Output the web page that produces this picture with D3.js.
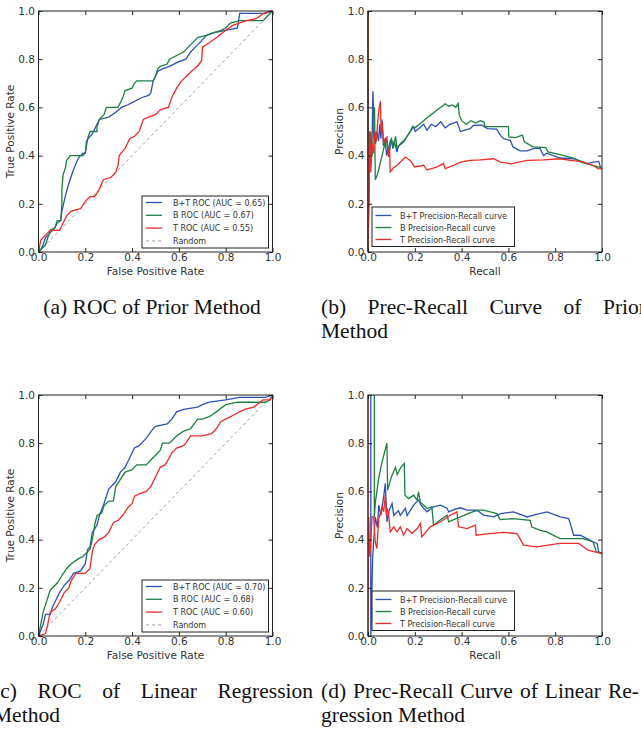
<!DOCTYPE html>
<html>
<head>
<meta charset="utf-8">
<script src="https://cdn.jsdelivr.net/npm/d3@7"></script>
<style>
  body { margin: 0; background: #fff; }
  svg { display: block; }
</style>
</head>
<body>
<div id="fig"></div>
<script>
// tick values shared by every panel
const ticks = [0.0, 0.2, 0.4, 0.6, 0.8, 1.0];
const randomLine = [[0, 0], [1, 1]];

// (a) ROC of prior method
const rocPriorBT = [[0,0],[0.01,0.01],[0.02,0.03],[0.03,0.06],[0.05,0.08],[0.07,0.1],[0.08,0.12],[0.095,0.13],[0.1,0.17],[0.105,0.19],[0.114,0.23],[0.128,0.28],[0.149,0.34],[0.17,0.39],[0.19,0.41],[0.2,0.41],[0.205,0.46],[0.22,0.48],[0.23,0.49],[0.25,0.53],[0.26,0.55],[0.3,0.56],[0.33,0.58],[0.355,0.6],[0.38,0.61],[0.4,0.62],[0.44,0.64],[0.47,0.65],[0.48,0.66],[0.49,0.71],[0.51,0.75],[0.53,0.76],[0.56,0.77],[0.6,0.79],[0.63,0.8],[0.65,0.83],[0.67,0.85],[0.69,0.87],[0.7,0.88],[0.72,0.9],[0.75,0.91],[0.8,0.92],[0.85,0.93],[0.855,0.96],[0.86,0.99],[0.97,0.99],[1,1]];
const rocPriorB = [[0,0],[0.02,0.02],[0.03,0.03],[0.04,0.06],[0.05,0.09],[0.07,0.1],[0.08,0.13],[0.095,0.13],[0.1,0.2],[0.1,0.26],[0.105,0.32],[0.115,0.35],[0.12,0.38],[0.128,0.39],[0.135,0.4],[0.19,0.4],[0.2,0.41],[0.21,0.47],[0.22,0.5],[0.25,0.5],[0.25,0.52],[0.26,0.55],[0.28,0.57],[0.29,0.6],[0.34,0.6],[0.35,0.62],[0.36,0.64],[0.37,0.67],[0.4,0.68],[0.41,0.7],[0.42,0.71],[0.49,0.71],[0.5,0.73],[0.51,0.76],[0.52,0.77],[0.55,0.78],[0.56,0.8],[0.58,0.81],[0.62,0.83],[0.64,0.85],[0.66,0.87],[0.68,0.89],[0.72,0.9],[0.75,0.91],[0.78,0.92],[0.8,0.93],[0.82,0.95],[0.86,0.96],[0.96,0.96],[0.97,0.97],[1,1]];
const rocPriorT = [[0,0],[0.01,0.05],[0.03,0.07],[0.05,0.09],[0.09,0.09],[0.1,0.11],[0.12,0.15],[0.14,0.17],[0.18,0.18],[0.2,0.21],[0.22,0.23],[0.24,0.23],[0.26,0.26],[0.277,0.3],[0.31,0.31],[0.33,0.33],[0.34,0.36],[0.345,0.4],[0.37,0.43],[0.39,0.47],[0.41,0.48],[0.43,0.5],[0.448,0.55],[0.47,0.56],[0.5,0.57],[0.52,0.59],[0.555,0.6],[0.569,0.64],[0.59,0.68],[0.612,0.71],[0.654,0.75],[0.683,0.775],[0.697,0.795],[0.701,0.85],[0.733,0.87],[0.761,0.89],[0.8,0.92],[0.83,0.94],[0.889,0.96],[0.93,0.968],[0.96,0.989],[0.98,0.996],[1,1]];

// (b) precision-recall of prior method
const prPriorBT = [[0,1],[0,0],[0.006,0.5],[0.012,0.4],[0.018,0.5],[0.021,0.667],[0.027,0.5],[0.033,0.45],[0.038,0.5],[0.045,0.46],[0.05,0.53],[0.055,0.47],[0.06,0.55],[0.066,0.44],[0.072,0.47],[0.08,0.4],[0.086,0.44],[0.092,0.42],[0.1,0.47],[0.106,0.43],[0.112,0.46],[0.124,0.415],[0.13,0.44],[0.152,0.456],[0.18,0.5],[0.195,0.52],[0.202,0.5],[0.22,0.515],[0.238,0.53],[0.252,0.505],[0.27,0.53],[0.29,0.52],[0.31,0.54],[0.33,0.515],[0.35,0.53],[0.38,0.54],[0.395,0.5],[0.41,0.505],[0.437,0.512],[0.45,0.525],[0.487,0.526],[0.51,0.512],[0.55,0.51],[0.566,0.484],[0.58,0.47],[0.608,0.463],[0.62,0.436],[0.65,0.42],[0.68,0.42],[0.71,0.43],[0.735,0.43],[0.75,0.4],[0.765,0.41],[0.82,0.39],[0.88,0.387],[0.907,0.378],[0.936,0.367],[0.965,0.373],[0.986,0.376],[0.993,0.353],[1,0.346]];
const prPriorB = [[0,1],[0,0],[0.006,0.33],[0.012,0.5],[0.018,0.4],[0.024,0.5],[0.028,0.6],[0.031,0.3],[0.04,0.32],[0.05,0.36],[0.06,0.4],[0.07,0.44],[0.078,0.47],[0.085,0.42],[0.095,0.46],[0.1,0.47],[0.108,0.43],[0.118,0.48],[0.124,0.43],[0.14,0.45],[0.16,0.47],[0.18,0.5],[0.19,0.52],[0.2,0.515],[0.22,0.53],[0.25,0.555],[0.27,0.57],[0.29,0.585],[0.31,0.6],[0.33,0.615],[0.345,0.605],[0.36,0.61],[0.375,0.6],[0.385,0.617],[0.39,0.57],[0.4,0.545],[0.42,0.53],[0.44,0.545],[0.46,0.535],[0.48,0.545],[0.495,0.54],[0.5,0.52],[0.55,0.52],[0.6,0.52],[0.602,0.478],[0.63,0.475],[0.66,0.485],[0.668,0.457],[0.705,0.436],[0.76,0.433],[0.77,0.415],[0.84,0.4],[0.876,0.39],[0.9,0.378],[0.92,0.37],[0.97,0.357],[1,0.348]];
const prPriorT = [[0,1],[0,0],[0.004,0.25],[0.008,0.5],[0.012,0.33],[0.018,0.45],[0.024,0.41],[0.03,0.5],[0.036,0.46],[0.042,0.55],[0.048,0.6],[0.053,0.625],[0.056,0.5],[0.06,0.54],[0.067,0.45],[0.074,0.47],[0.081,0.477],[0.085,0.42],[0.088,0.394],[0.092,0.43],[0.095,0.332],[0.11,0.35],[0.124,0.36],[0.145,0.38],[0.16,0.394],[0.18,0.38],[0.2,0.353],[0.238,0.36],[0.252,0.34],[0.295,0.353],[0.323,0.367],[0.33,0.346],[0.366,0.36],[0.395,0.373],[0.437,0.38],[0.48,0.382],[0.537,0.387],[0.566,0.373],[0.61,0.366],[0.68,0.38],[0.75,0.382],[0.82,0.387],[0.866,0.38],[0.92,0.374],[0.96,0.36],[0.985,0.345],[1,0.345]];

// (c) ROC of linear regression method
const rocLinBT = [[0,0],[0.02,0.05],[0.03,0.09],[0.05,0.09],[0.06,0.12],[0.07,0.14],[0.09,0.18],[0.11,0.21],[0.13,0.23],[0.15,0.26],[0.18,0.27],[0.2,0.3],[0.21,0.36],[0.22,0.37],[0.23,0.43],[0.25,0.46],[0.26,0.5],[0.28,0.55],[0.3,0.61],[0.33,0.64],[0.35,0.68],[0.37,0.7],[0.39,0.74],[0.41,0.78],[0.43,0.79],[0.46,0.82],[0.49,0.86],[0.5,0.87],[0.55,0.88],[0.57,0.9],[0.59,0.93],[0.62,0.94],[0.68,0.95],[0.7,0.96],[0.73,0.97],[0.8,0.98],[0.86,0.99],[0.97,0.99],[1,1]];
const rocLinB = [[0,0],[0.01,0.05],[0.02,0.1],[0.03,0.13],[0.04,0.16],[0.05,0.19],[0.08,0.22],[0.1,0.25],[0.12,0.28],[0.14,0.3],[0.17,0.32],[0.19,0.33],[0.22,0.36],[0.23,0.4],[0.24,0.46],[0.25,0.5],[0.27,0.51],[0.28,0.54],[0.3,0.56],[0.32,0.56],[0.33,0.62],[0.35,0.65],[0.37,0.68],[0.4,0.69],[0.42,0.71],[0.46,0.71],[0.48,0.73],[0.5,0.75],[0.52,0.77],[0.53,0.8],[0.56,0.8],[0.59,0.83],[0.62,0.85],[0.65,0.86],[0.68,0.9],[0.7,0.9],[0.73,0.91],[0.76,0.93],[0.8,0.96],[0.85,0.97],[0.97,0.97],[0.99,0.98],[1,1]];
const rocLinT = [[0,0],[0.03,0.01],[0.04,0.05],[0.05,0.1],[0.07,0.11],[0.09,0.14],[0.11,0.18],[0.13,0.2],[0.14,0.23],[0.16,0.26],[0.2,0.26],[0.22,0.28],[0.23,0.35],[0.24,0.38],[0.26,0.4],[0.28,0.41],[0.3,0.43],[0.32,0.47],[0.34,0.48],[0.36,0.5],[0.38,0.53],[0.4,0.55],[0.41,0.58],[0.43,0.59],[0.46,0.6],[0.48,0.62],[0.5,0.66],[0.52,0.7],[0.54,0.71],[0.56,0.74],[0.57,0.76],[0.59,0.78],[0.62,0.79],[0.63,0.8],[0.65,0.83],[0.7,0.83],[0.74,0.84],[0.76,0.86],[0.78,0.89],[0.8,0.9],[0.84,0.92],[0.88,0.94],[0.92,0.95],[0.96,0.98],[0.99,0.98],[1,1]];

// (d) precision-recall of linear regression method
const prLinBT = [[0.012,1],[0.012,0],[0.02,0.33],[0.031,0.494],[0.04,0.45],[0.046,0.543],[0.055,0.5],[0.067,0.578],[0.074,0.633],[0.081,0.474],[0.09,0.52],[0.103,0.55],[0.11,0.5],[0.13,0.52],[0.138,0.5],[0.16,0.53],[0.167,0.5],[0.195,0.543],[0.216,0.564],[0.225,0.545],[0.238,0.53],[0.252,0.515],[0.28,0.536],[0.31,0.543],[0.338,0.53],[0.345,0.515],[0.37,0.525],[0.395,0.532],[0.423,0.522],[0.466,0.522],[0.494,0.501],[0.537,0.494],[0.566,0.508],[0.622,0.515],[0.68,0.494],[0.72,0.505],[0.765,0.515],[0.822,0.494],[0.857,0.487],[0.865,0.466],[0.879,0.418],[0.907,0.418],[0.936,0.404],[0.964,0.39],[0.979,0.384],[0.986,0.349],[1,0.342]];
const prLinB = [[0.027,1],[0.027,0.494],[0.032,0.56],[0.038,0.6],[0.045,0.65],[0.053,0.69],[0.06,0.72],[0.07,0.76],[0.081,0.8],[0.084,0.605],[0.1,0.66],[0.117,0.7],[0.125,0.67],[0.14,0.7],[0.155,0.716],[0.158,0.584],[0.174,0.57],[0.195,0.584],[0.21,0.564],[0.216,0.598],[0.224,0.555],[0.252,0.53],[0.273,0.536],[0.28,0.46],[0.316,0.487],[0.338,0.501],[0.345,0.474],[0.359,0.48],[0.395,0.494],[0.437,0.512],[0.473,0.522],[0.494,0.522],[0.551,0.508],[0.565,0.483],[0.62,0.487],[0.693,0.48],[0.7,0.452],[0.736,0.438],[0.764,0.432],[0.82,0.404],[0.92,0.404],[0.962,0.39],[0.976,0.349],[1,0.345]];
const prLinT = [[0,1],[0,0],[0.003,0.494],[0.007,0.33],[0.01,0.363],[0.017,0.494],[0.024,0.494],[0.031,0.39],[0.038,0.363],[0.046,0.487],[0.053,0.508],[0.06,0.536],[0.067,0.515],[0.074,0.585],[0.078,0.5],[0.081,0.53],[0.088,0.508],[0.095,0.432],[0.11,0.453],[0.124,0.432],[0.138,0.453],[0.152,0.418],[0.167,0.446],[0.188,0.425],[0.21,0.446],[0.224,0.467],[0.23,0.411],[0.266,0.453],[0.31,0.474],[0.352,0.501],[0.38,0.515],[0.387,0.453],[0.423,0.446],[0.459,0.46],[0.462,0.418],[0.52,0.425],[0.58,0.43],[0.637,0.425],[0.665,0.377],[0.72,0.37],[0.82,0.384],[0.9,0.384],[0.94,0.356],[1,0.342]];

const blue = "#2b52b5", green = "#1c8040", red = "#f22a2a";

const svg = d3.select("#fig").append("svg")
    .attr("width", 641)
    .attr("height", 731);

const panels = [
    {left: 38.5, top: 11, curves: [rocPriorBT, rocPriorB, rocPriorT], roc: true,
     names: ["B+T ROC (AUC = 0.65)", "B ROC (AUC = 0.67)", "T ROC (AUC = 0.55)"]},
    {left: 368, top: 11, curves: [prPriorBT, prPriorB, prPriorT], roc: false,
     names: ["B+T Precision-Recall curve", "B Precision-Recall curve", "T Precision-Recall curve"]},
    {left: 38.5, top: 395, curves: [rocLinBT, rocLinB, rocLinT], roc: true,
     names: ["B+T ROC (AUC = 0.70)", "B ROC (AUC = 0.68)", "T ROC (AUC = 0.60)"]},
    {left: 368, top: 395, curves: [prLinBT, prLinB, prLinT], roc: false,
     names: ["B+T Precision-Recall curve", "B Precision-Recall curve", "T Precision-Recall curve"]}
];
const pw = 234, ph = 241;
const colors = [blue, green, red];
const sans = "DejaVu Sans, sans-serif";

panels.forEach(p => {
    const g = svg.append("g").attr("transform", `translate(${p.left},${p.top})`);
    const x = d3.scaleLinear().domain([0, 1]).range([0, pw]);
    const y = d3.scaleLinear().domain([0, 1]).range([ph, 0]);
    const line = d3.line().x(d => x(d[0])).y(d => y(d[1]));

    g.append("defs").append("clipPath").attr("id", "c" + p.left + p.top)
        .append("rect").attr("x", -1).attr("y", -1).attr("width", pw + 2).attr("height", ph + 2);

    const plot = g.append("g").attr("clip-path", `url(#c${p.left}${p.top})`);
    if (p.roc) {
        plot.append("path").datum(randomLine)
            .attr("d", line).attr("fill", "none")
            .attr("stroke", "#a0a0a0").attr("stroke-width", 1)
            .attr("stroke-dasharray", "3,3");
    }
    p.curves.forEach((c, i) => {
        plot.append("path").datum(c)
            .attr("d", line).attr("fill", "none")
            .attr("stroke", colors[i]).attr("stroke-width", 1.3)
            .attr("stroke-linejoin", "miter");
    });

    // axes with inward ticks on all four sides
    const ax = [
        g.append("g").attr("transform", `translate(0,${ph})`).call(d3.axisBottom(x).tickValues(ticks).tickFormat(d3.format(".1f")).tickSizeInner(-4).tickSizeOuter(0).tickPadding(2)),
        g.append("g").call(d3.axisLeft(y).tickValues(ticks).tickFormat(d3.format(".1f")).tickSizeInner(-4).tickSizeOuter(0).tickPadding(3.5)),
        g.append("g").call(d3.axisTop(x).tickValues(ticks).tickFormat("").tickSizeInner(-4).tickSizeOuter(0)),
        g.append("g").attr("transform", `translate(${pw},0)`).call(d3.axisRight(y).tickValues(ticks).tickFormat("").tickSizeInner(-4).tickSizeOuter(0))
    ];
    ax.forEach(a => {
        a.select(".domain").remove();
        a.selectAll("line").attr("stroke", "#222");
        a.selectAll("text").attr("font-family", sans).attr("font-size", 10.5).attr("fill", "#333");
    });

    g.append("rect").attr("width", pw).attr("height", ph)
        .attr("fill", "none").attr("stroke", "#222").attr("stroke-width", 1);

    g.append("text").attr("x", pw / 2).attr("y", ph + 22.5)
        .attr("text-anchor", "middle").attr("font-family", sans).attr("font-size", 10.5).attr("fill", "#333")
        .text(p.roc ? "False Positive Rate" : "Recall");
    g.append("text")
        .attr("transform", `translate(-21,${ph / 2}) rotate(-90)`)
        .attr("text-anchor", "middle").attr("font-family", sans).attr("font-size", 10.5).attr("fill", "#333")
        .attr("dy", "-0.35em")
        .text(p.roc ? "True Positive Rate" : "Precision");

    // legend
    const items = p.roc ? p.names.concat(["Random"]) : p.names;
    const lg = p.roc
        ? {x: 103.5, y: 185, w: 126.5, h: 52, sx: 4, sl: 16, tx: 31, first: 6.5, step: 12.8}
        : {x: 4, y: 196, w: 142.5, h: 39.5, sx: 3.5, sl: 16, tx: 28, first: 8.5, step: 12};
    const leg = g.append("g").attr("transform", `translate(${lg.x},${lg.y})`);
    leg.append("rect").attr("width", lg.w).attr("height", lg.h)
        .attr("fill", "#fff").attr("stroke", "#222").attr("stroke-width", 1);
    items.forEach((name, i) => {
        const yy = lg.first + i * lg.step;
        leg.append("line").attr("x1", lg.sx).attr("x2", lg.sx + lg.sl).attr("y1", yy).attr("y2", yy)
            .attr("stroke", i < 3 ? colors[i] : "#a0a0a0").attr("stroke-width", i < 3 ? 1.3 : 1)
            .attr("stroke-dasharray", i < 3 ? null : "3,3");
        leg.append("text").attr("x", lg.tx).attr("y", yy + 3)
            .attr("font-family", sans).attr("font-size", 8).attr("fill", "#333").text(name);
    });
});

// captions; justified lines get their word gaps widened to fill the column
const captions = [
    {text: "(a) ROC of Prior Method", x: 152, y: 314, anchor: "middle"},
    {text: "(b) Prec-Recall Curve of Prior", x: 321, y: 314, len: 325},
    {text: "Method", x: 321, y: 338},
    {text: "(c) ROC of Linear Regression", x: -7, y: 698, len: 320},
    {text: "Method", x: -7, y: 722},
    {text: "(d) Prec-Recall Curve of Linear Re-", x: 321, y: 698, len: 318},
    {text: "gression Method", x: 321, y: 722}
];
captions.forEach(c => {
    const t = svg.append("text").attr("x", c.x).attr("y", c.y)
        .attr("font-family", "Liberation Serif, Times New Roman, serif")
        .attr("font-size", 21.5).attr("fill", "#111")
        .attr("text-anchor", c.anchor || "start");
    if (!c.len) { t.text(c.text); return; }
    const words = c.text.split(" ");
    const spans = words.map(w => t.append("tspan").text(w));
    const widths = spans.map(s => s.node().getComputedTextLength());
    const gap = (c.len - d3.sum(widths)) / (words.length - 1);
    let pos = c.x;
    spans.forEach((s, i) => { s.attr("x", pos); pos += widths[i] + gap; });
});
</script>
</body>
</html>
